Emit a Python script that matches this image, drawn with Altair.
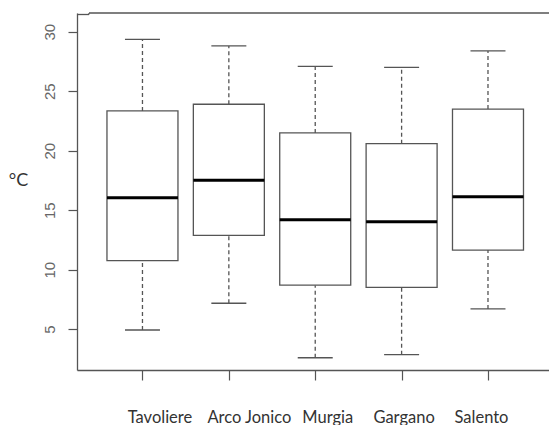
import altair as alt
import pandas as pd

# Monthly temperature distribution per area (°C)
areas = ["Tavoliere", "Arco Jonico", "Murgia", "Gargano", "Salento"]
whisker_low = [4.93, 7.18, 2.60, 2.86, 6.70]
q1 = [10.76, 12.89, 8.70, 8.52, 11.65]
median = [16.05, 17.51, 14.20, 14.03, 16.13]
q3 = [23.34, 23.90, 21.49, 20.59, 23.50]
whisker_high = [29.36, 28.80, 27.09, 27.00, 28.38]

# horizontal nudge of each category label relative to its tick (px)
label_nudge = [17, 20, 12, 2, -7]

df = pd.DataFrame({
    "area": areas,
    "pos": list(range(1, len(areas) + 1)),
    "lo": whisker_low,
    "q1": q1,
    "med": median,
    "q3": q3,
    "hi": whisker_high,
})

W, H = 472, 357
LINE = "#555555"

label_expr = "[" + ",".join("'" + a + "'" for a in areas) + "][datum.value - 1]"
label_offset = {
    "condition": [
        {"test": f"datum.value == {i + 1}", "value": n} for i, n in enumerate(label_nudge)
    ],
    "value": 0,
}

x_scale = alt.Scale(domain=[0.3, 0.3 + W / 88.25], nice=False, zero=False)
y_scale = alt.Scale(domain=[1.57, 31.57], nice=False, zero=False)

x_enc = alt.X(
    "pos:Q", scale=x_scale,
    axis=alt.Axis(
        values=list(range(1, len(areas) + 1)), labelExpr=label_expr,
        title=None, grid=False, tickSize=10, tickColor=LINE, tickWidth=1.2,
        domainColor=LINE, domainWidth=1.3,
        labelFont="Lato", labelFontSize=16.5, labelColor="#333333",
        labelPadding=29, labelFlush=False, labelOffset=label_offset,
    ),
)
y_axis = alt.Axis(
    values=[5, 10, 15, 20, 25, 30], grid=False, tickSize=9, tickColor=LINE,
    tickWidth=1.2, domainColor=LINE, domainWidth=1.3,
    labelFont="Liberation Sans", labelFontSize=15, labelColor="#666666",
    labelAngle=270, labelAlign="center", labelBaseline="bottom", labelPadding=11,
    title="°C", titleAngle=0, titleFont="Lato", titleFontSize=18,
    titleFontWeight="normal", titleColor="#333333",
    titleX=-59, titleY=167, titleAlign="center", titleBaseline="middle",
)

base = alt.Chart(df)
dash = [4, 3]

whisker_up = base.mark_rule(color=LINE, strokeWidth=1.3, strokeDash=dash).encode(
    x=x_enc, y=alt.Y("q3:Q", scale=y_scale, axis=y_axis), y2="hi:Q"
)
whisker_dn = base.mark_rule(color=LINE, strokeWidth=1.3, strokeDash=dash).encode(
    x="pos:Q", y="lo:Q", y2="q1:Q"
)
cap_hi = base.mark_tick(orient="horizontal", size=35, thickness=1.3, color=LINE, opacity=1).encode(
    x="pos:Q", y="hi:Q"
)
cap_lo = base.mark_tick(orient="horizontal", size=35, thickness=1.3, color=LINE, opacity=1).encode(
    x="pos:Q", y="lo:Q"
)
box = base.mark_bar(size=71, fill="white", stroke=LINE, strokeWidth=1.3).encode(
    x="pos:Q", y="q1:Q", y2="q3:Q"
)
med = base.mark_tick(orient="horizontal", size=71, thickness=3, color="black", opacity=1).encode(
    x="pos:Q", y="med:Q"
)

# frame top edge, with the small step at its left end
frame = alt.Chart(pd.DataFrame({"k": [0]}))
top_main = frame.mark_rule(color=LINE, strokeWidth=1.3).encode(
    x=alt.value(12), x2=alt.value(W), y=alt.value(0)
)
top_step = frame.mark_rule(color=LINE, strokeWidth=1.3).encode(
    x=alt.value(0), x2=alt.value(12), y=alt.value(1.5)
)
top_join = frame.mark_rule(color=LINE, strokeWidth=1.3).encode(
    x=alt.value(12), y=alt.value(0), y2=alt.value(1.5)
)

chart = alt.layer(
    whisker_up, whisker_dn, cap_hi, cap_lo, box, med, top_main, top_step, top_join
).properties(
    width=W, height=H,
    autosize=alt.AutoSizeParams(type="none"),
    padding={"left": 77, "top": 13, "right": 0, "bottom": 55},
    background="white",
).configure_view(stroke=None)

chart.save("out.html", embed_options={"renderer": "svg", "actions": False})
